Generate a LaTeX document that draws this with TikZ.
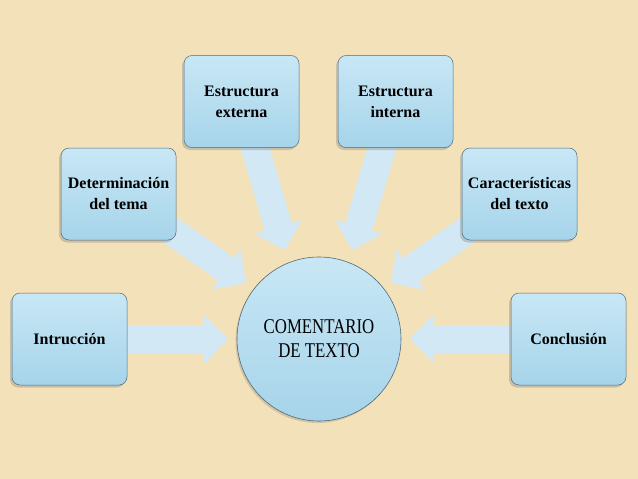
\documentclass[tikz,border=0pt]{standalone}
\usepackage{fontspec}
\setmainfont{Liberation Serif}
\newfontfamily\circfont[FakeStretch=0.8]{Liberation Serif}
\usetikzlibrary{arrows.meta,shadows,backgrounds}
\definecolor{bgbeige}{RGB}{243,225,185}
\definecolor{boxtop}{RGB}{200,231,245}
\definecolor{boxbot}{RGB}{166,212,234}
\definecolor{boxline}{RGB}{85,105,115}
\definecolor{arrowblue}{RGB}{210,233,245}
\tikzset{
  topicbox/.style={draw=boxline, line width=0.5pt, rounded corners=8pt,
    minimum width=115pt, minimum height=92pt, inner sep=2pt,
    top color=boxtop, bottom color=boxbot, align=center,
    font=\fontsize{16}{21}\selectfont\bfseries,
    drop shadow={shadow xshift=-2pt, shadow yshift=-2.5pt, opacity=0.35}},
  centercircle/.style={circle, draw=boxline, line width=0.6pt,
    minimum size=164pt, inner sep=0pt, top color=boxtop, bottom color=boxbot,
    align=center, font=\circfont\fontsize{21}{24}\selectfont,
    drop shadow={shadow xshift=-1.5pt, shadow yshift=-2pt, opacity=0.3}},
  blockarrow/.style={draw=arrowblue, line width=28pt,
    -{Triangle[width=48pt,length=24pt]}}
}
\begin{document}
\begin{tikzpicture}[x=1pt,y=-1pt]
\useasboundingbox (0,0) rectangle (638,479);
\node[topicbox] (intr) at (69.5,339) {Intrucción};
\node[topicbox] (det) at (118.5,194) {Determinación\\del tema};
\node[topicbox] (ext) at (241.5,101.5) {Estructura\\externa};
\node[topicbox] (int) at (395.5,101.5) {Estructura\\interna};
\node[topicbox] (car) at (519.5,194) {Características\\del texto};
\node[topicbox] (concl) at (568.5,339) {Conclusión};
\node[centercircle] (com) at (319,339) {COMENTARIO\\DE TEXTO};
\coordinate (tIntr) at (228,339);
\coordinate (tDet) at (246,283);
\coordinate (tExt) at (285,250);
\coordinate (tInt) at (352,250);
\coordinate (tCar) at (391,283);
\coordinate (tConcl) at (410,339);
\begin{scope}[on background layer]
  \fill[bgbeige] (0,0) rectangle (638,479);
  \draw[blockarrow] (intr.center) -- (tIntr);
  \draw[blockarrow] (det.center) -- (tDet);
  \draw[blockarrow] (ext.center) -- (tExt);
  \draw[blockarrow] (int.center) -- (tInt);
  \draw[blockarrow] (car.center) -- (tCar);
  \draw[blockarrow] (concl.center) -- (tConcl);
\end{scope}
\end{tikzpicture}
\end{document}
